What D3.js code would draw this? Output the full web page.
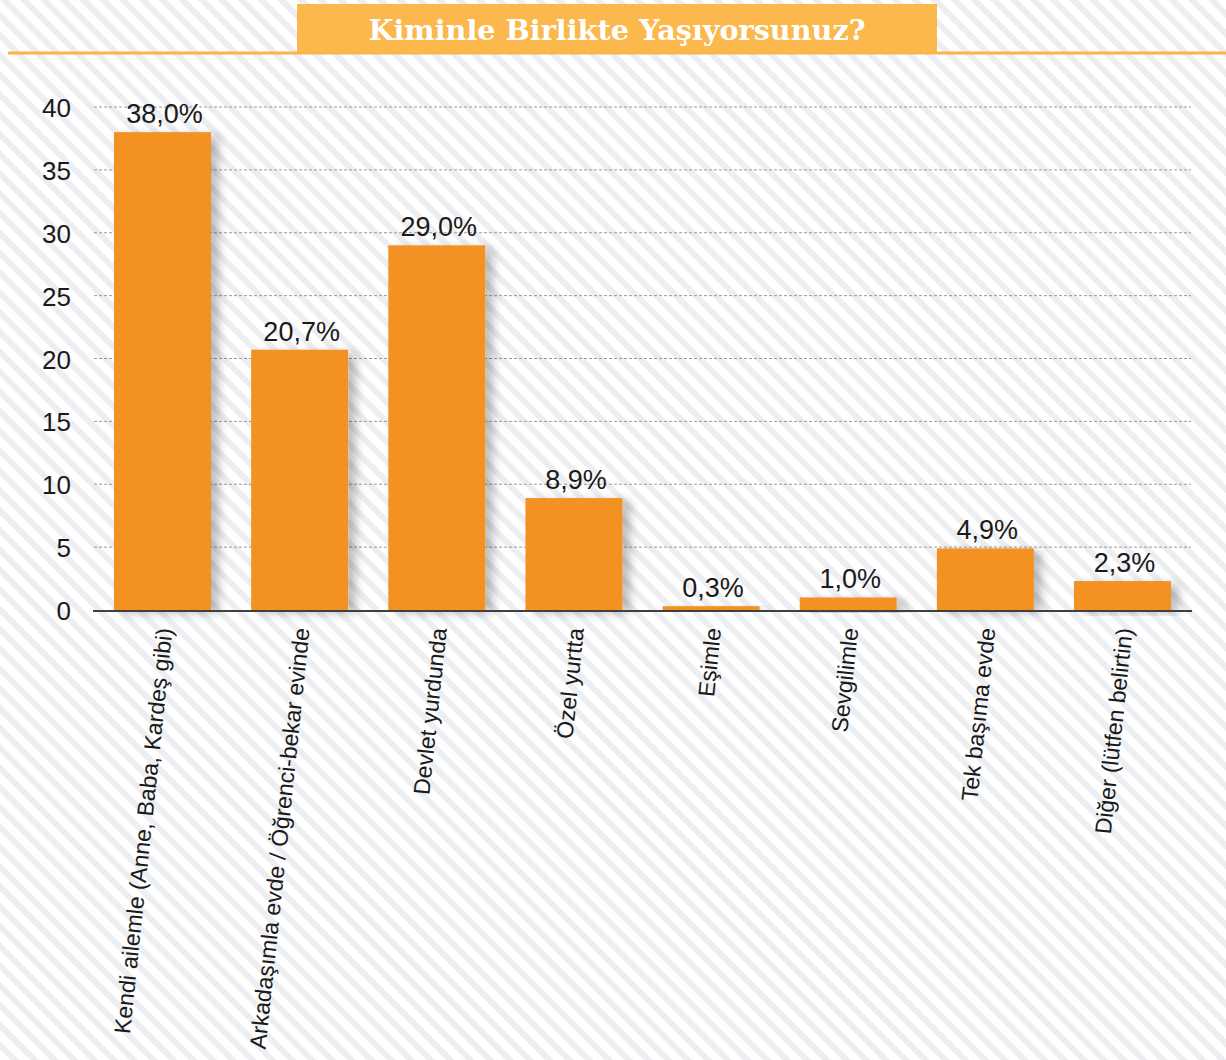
<!DOCTYPE html>
<html>
<head>
<meta charset="utf-8">
<script src="https://cdn.jsdelivr.net/npm/d3@7"></script>
<style>
  body { margin: 0; background: #fff; }
  svg { display: block; }
</style>
</head>
<body>
<svg id="chart" width="1226" height="1060"></svg>
<script>
// chart data
const categories = [
    "Kendi ailemle (Anne, Baba, Kardeş gibi)",
    "Arkadaşımla evde / Öğrenci-bekar evinde",
    "Devlet yurdunda",
    "Özel yurtta",
    "Eşimle",
    "Sevgilimle",
    "Tek başıma evde",
    "Diğer (lütfen belirtin)"
];
const values = [38.0, 20.7, 29.0, 8.9, 0.3, 1.0, 4.9, 2.3];
const yTicks = [0, 5, 10, 15, 20, 25, 30, 35, 40];
const title = "Kiminle Birlikte Yaşıyorsunuz?";

const svg = d3.select("#chart");
const W = 1226, H = 1060;

const defs = svg.append("defs");

// diagonal striped background
const pat = defs.append("pattern")
    .attr("id", "stripes")
    .attr("patternUnits", "userSpaceOnUse")
    .attr("width", 14)
    .attr("height", 14)
    .attr("patternTransform", "rotate(-45)");
pat.append("rect").attr("width", 14).attr("height", 14).attr("fill", "#ffffff");
pat.append("rect").attr("width", 6).attr("height", 14).attr("fill", "#edeef1");

// soft shadow for the bars
const shadow = defs.append("filter")
    .attr("id", "barShadow")
    .attr("x", "-20%").attr("y", "-20%")
    .attr("width", "160%").attr("height", "140%");
shadow.append("feDropShadow")
    .attr("dx", 8).attr("dy", 3)
    .attr("stdDeviation", 5)
    .attr("flood-color", "#000")
    .attr("flood-opacity", 0.25);

svg.append("rect").attr("width", W).attr("height", H).attr("fill", "url(#stripes)");

// title banner
svg.append("line")
    .attr("x1", 8).attr("x2", W)
    .attr("y1", 53).attr("y2", 53)
    .attr("stroke", "#fbb447").attr("stroke-width", 3);
svg.append("rect")
    .attr("x", 297).attr("y", 4)
    .attr("width", 640).attr("height", 48)
    .attr("fill", "#fbb84d");
svg.append("text")
    .attr("x", 617).attr("y", 40)
    .attr("text-anchor", "middle")
    .attr("font-family", "'DejaVu Serif', serif")
    .attr("font-weight", "bold")
    .attr("font-size", 28)
    .attr("fill", "#ffffff")
    .attr("textLength", 497)
    .attr("lengthAdjust", "spacingAndGlyphs")
    .text(title);

// scales
const x = d3.scaleBand()
    .domain(categories)
    .range([94, 1191])
    .paddingInner(0.293)
    .paddingOuter(0.146);

const y = d3.scaleLinear()
    .domain([0, 40])
    .range([610, 107]);

const font = "'Liberation Sans', Arial, sans-serif";

// gridlines
svg.append("g")
    .selectAll("line")
    .data(yTicks.filter(d => d > 0))
    .enter()
    .append("line")
    .attr("x1", 94).attr("x2", 1191)
    .attr("y1", d => y(d)).attr("y2", d => y(d))
    .attr("stroke", "#9a9a9a")
    .attr("stroke-width", 1)
    .attr("stroke-dasharray", "3,2");

// y tick labels
svg.append("g")
    .selectAll("text")
    .data(yTicks)
    .enter()
    .append("text")
    .attr("x", 71)
    .attr("y", d => y(d) + 10)
    .attr("text-anchor", "end")
    .attr("font-family", font)
    .attr("font-size", 26)
    .attr("fill", "#1a1a1a")
    .text(d => d);

// bars
svg.append("g")
    .selectAll("rect")
    .data(values)
    .enter()
    .append("rect")
    .attr("x", (d, i) => x(categories[i]))
    .attr("y", d => y(d))
    .attr("width", x.bandwidth())
    .attr("height", d => y(0) - y(d))
    .attr("fill", "#f39122")
    .attr("filter", "url(#barShadow)");

// baseline
svg.append("line")
    .attr("x1", 93).attr("x2", 1192)
    .attr("y1", y(0) + 1).attr("y2", y(0) + 1)
    .attr("stroke", "#404040")
    .attr("stroke-width", 2);

// value labels
svg.append("g")
    .selectAll("text")
    .data(values)
    .enter()
    .append("text")
    .attr("x", (d, i) => x(categories[i]) + x.bandwidth() / 2 + 2)
    .attr("y", d => y(d) - 9)
    .attr("text-anchor", "middle")
    .attr("font-family", font)
    .attr("font-size", 27)
    .attr("fill", "#1a1a1a")
    .text(d => d.toFixed(1).replace(".", ",") + "%");

// category labels, tilted almost vertical
svg.append("g")
    .selectAll("text")
    .data(categories)
    .enter()
    .append("text")
    .attr("transform", d => `translate(${x(d) + x.bandwidth() / 2 + 2},628) rotate(-84)`)
    .attr("text-anchor", "end")
    .attr("dy", "0.35em")
    .attr("font-family", font)
    .attr("font-size", 23)
    .attr("fill", "#1a1a1a")
    .text(d => d);
</script>
</body>
</html>
